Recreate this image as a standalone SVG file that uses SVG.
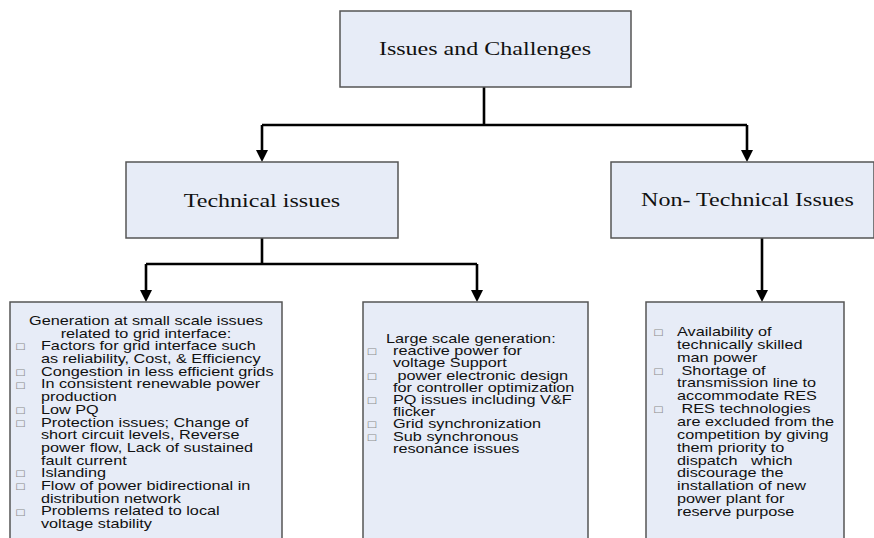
<svg xmlns="http://www.w3.org/2000/svg" width="874" height="538" viewBox="0 0 874 538">
<style>
.box{fill:#E7ECF7;stroke:#555;stroke-width:1.5}
.ser{font-family:"Liberation Serif","Times New Roman",serif;font-size:18.5px;fill:#111;text-anchor:middle}
.san{font-family:"Liberation Sans",Arial,sans-serif;font-size:12.5px;fill:#111}
.mid{text-anchor:middle}
.bul{font-family:"DejaVu Sans",sans-serif;font-size:8.5px;fill:#8c8c8c}
.con{fill:none;stroke:#000;stroke-width:2.6}
.arr{fill:none;stroke:#000;stroke-width:2.6;marker-end:url(#ah)}
</style>
<defs>
<marker id="ah" markerUnits="userSpaceOnUse" markerWidth="12" markerHeight="12" viewBox="0 0 12 12" refX="2" refY="6" orient="auto">
<path d="M0,0 L12,6 L0,12 z" fill="#000"/>
</marker>
</defs>
<rect width="874" height="538" fill="#fff"/>
<g id="connectors">
<path class="con" d="M484,87 V125 M262,125 H747"/>
<path class="arr" d="M262,125 V152"/>
<path class="arr" d="M747,125 V152"/>
<path class="con" d="M262,238 V264 M146,264 H477"/>
<path class="arr" d="M146,264 V292"/>
<path class="arr" d="M477,264 V292"/>
<path class="arr" d="M762,238 V292"/>
</g>
<g id="issues-challenges">
<rect class="box" x="340" y="11" width="291" height="76"/>
<text class="ser" transform="scale(1.3,1)" x="373.08" y="55">Issues and Challenges</text>
</g>
<g id="technical-issues">
<rect class="box" x="126" y="162" width="272" height="76"/>
<text class="ser" transform="scale(1.3,1)" x="201.54" y="207">Technical issues</text>
</g>
<g id="non-technical-issues">
<rect class="box" x="611" y="162" width="263" height="76"/>
<text class="ser" transform="scale(1.3,1)" x="575" y="206">Non- Technical Issues</text>
</g>
<g id="small-scale">
<rect class="box" x="10" y="302" width="272" height="250"/>
<g transform="scale(1.3,1)">
<text class="san mid" x="112.3" y="325">Generation at small scale issues</text>
<text class="san mid" x="112.3" y="337.7">related to grid interface:</text>
<text class="bul" x="11.5" y="349.5">□</text>
<text class="san" x="31.5" y="350.4">Factors for grid interface such</text>
<text class="san" x="31.5" y="363.1">as reliability, Cost, &amp; Efficiency</text>
<text class="bul" x="11.5" y="374.9">□</text>
<text class="san" x="31.5" y="375.8">Congestion in less efficient grids</text>
<text class="bul" x="11.5" y="387.6">□</text>
<text class="san" x="31.5" y="388.5">In consistent renewable power</text>
<text class="san" x="31.5" y="401.2">production</text>
<text class="bul" x="11.5" y="413">□</text>
<text class="san" x="31.5" y="413.9">Low PQ</text>
<text class="bul" x="11.5" y="425.7">□</text>
<text class="san" x="31.5" y="426.6">Protection issues; Change of</text>
<text class="san" x="31.5" y="439.3">short circuit levels, Reverse</text>
<text class="san" x="31.5" y="452">power flow, Lack of sustained</text>
<text class="san" x="31.5" y="464.7">fault current</text>
<text class="bul" x="11.5" y="476.5">□</text>
<text class="san" x="31.5" y="477.4">Islanding</text>
<text class="bul" x="11.5" y="489.2">□</text>
<text class="san" x="31.5" y="490.1">Flow of power bidirectional in</text>
<text class="san" x="31.5" y="502.8">distribution network</text>
<text class="bul" x="11.5" y="514.6">□</text>
<text class="san" x="31.5" y="515.5">Problems related to local</text>
<text class="san" x="31.5" y="528.2">voltage stability</text>
</g>
</g>
<g id="large-scale">
<rect class="box" x="363" y="302" width="225" height="250"/>
<g transform="scale(1.3,1)">
<text class="san" x="296.9" y="343">Large scale generation:</text>
<text class="bul" x="282" y="354.3">□</text>
<text class="san" x="302.3" y="355.2">reactive power for</text>
<text class="san" x="302.3" y="367.4">voltage Support</text>
<text class="bul" x="282" y="378.7">□</text>
<text class="san" x="302.3" y="379.6" xml:space="preserve"> power electronic design</text>
<text class="san" x="302.3" y="391.8">for controller optimization</text>
<text class="bul" x="282" y="403.1">□</text>
<text class="san" x="302.3" y="404">PQ issues including V&amp;F</text>
<text class="san" x="302.3" y="416.2">flicker</text>
<text class="bul" x="282" y="427.5">□</text>
<text class="san" x="302.3" y="428.4">Grid synchronization</text>
<text class="bul" x="282" y="439.7">□</text>
<text class="san" x="302.3" y="440.6">Sub synchronous</text>
<text class="san" x="302.3" y="452.8">resonance issues</text>
</g>
</g>
<g id="non-technical-list">
<rect class="box" x="646" y="302" width="198" height="250"/>
<g transform="scale(1.3,1)">
<text class="bul" x="502.3" y="335.1">□</text>
<text class="san" x="520.8" y="336">Availability of</text>
<text class="san" x="520.8" y="348.9">technically skilled</text>
<text class="san" x="520.8" y="361.7">man power</text>
<text class="bul" x="502.3" y="373.7">□</text>
<text class="san" x="520.8" y="374.6" xml:space="preserve"> Shortage of</text>
<text class="san" x="520.8" y="387.4">transmission line to</text>
<text class="san" x="520.8" y="400.3">accommodate RES</text>
<text class="bul" x="502.3" y="412.3">□</text>
<text class="san" x="520.8" y="413.2" xml:space="preserve"> RES technologies</text>
<text class="san" x="520.8" y="426">are excluded from the</text>
<text class="san" x="520.8" y="438.9">competition by giving</text>
<text class="san" x="520.8" y="451.7">them priority to</text>
<text class="san" x="520.8" y="464.6" xml:space="preserve">dispatch   which</text>
<text class="san" x="520.8" y="477.5">discourage the</text>
<text class="san" x="520.8" y="490.3">installation of new</text>
<text class="san" x="520.8" y="503.2">power plant for</text>
<text class="san" x="520.8" y="516">reserve purpose</text>
</g>
</g>
</svg>
